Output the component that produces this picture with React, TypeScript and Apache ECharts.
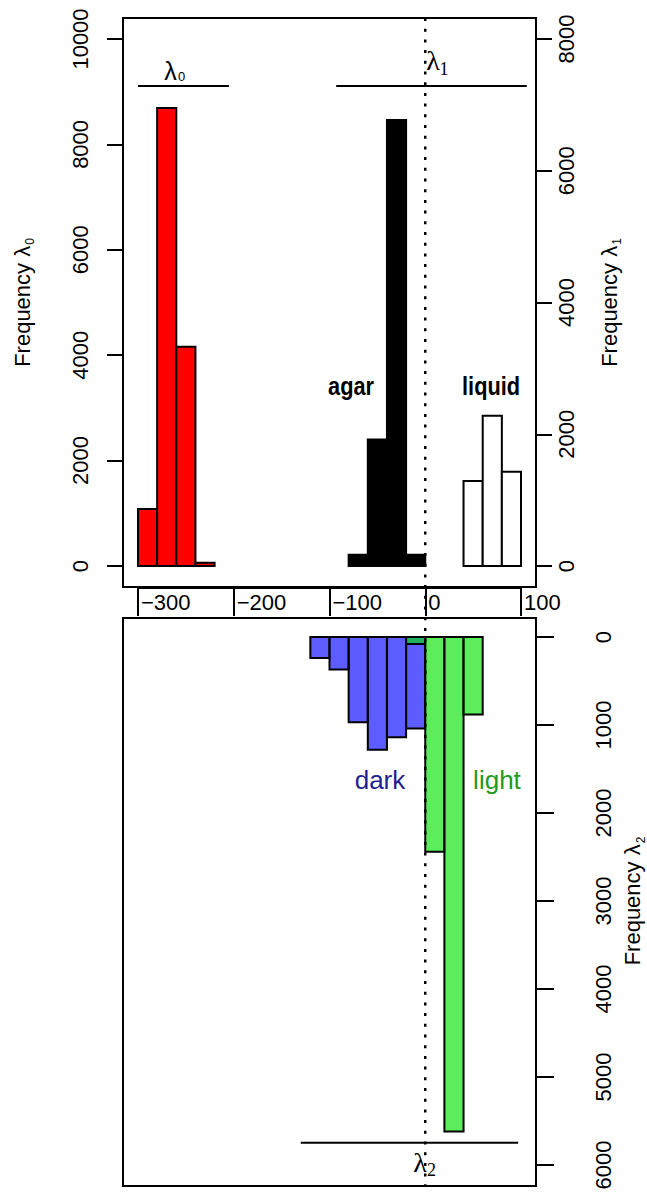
import React, { useEffect, useRef } from "react";
import * as echarts from "echarts";

// ---------------- data ----------------
const xTickValues = [-300, -200, -100, 0, 100];
const freq0Ticks = [0, 2000, 4000, 6000, 8000, 10000];
const freq1Ticks = [0, 2000, 4000, 6000, 8000];
const freq2Ticks = [0, 1000, 2000, 3000, 4000, 5000, 6000];

const lambda0Edges = [-300, -280, -260, -240, -220];
const lambda0Counts = [1080, 8690, 4160, 60];

const agarEdges = [-80, -60, -40, -20, 0];
const agarCounts = [170, 1920, 6770, 170];

const liquidEdges = [40, 60, 80, 100];
const liquidCounts = [1290, 2280, 1430];

const darkEdges = [-120, -100, -80, -60, -40, -20, 0];
const darkCounts = [240, 370, 970, 1280, 1140, 1040];

const lightEdges = [-20, 0, 20, 40, 60];
const lightCounts = [80, 2440, 5620, 880];

const lambda0Range = [-300, -205];
const lambda1Range = [-93, 106];
const lambda2Range = [-130, 97];

// ---------------- styling ----------------
const SANS = "'Liberation Sans', Arial, Helvetica, sans-serif";
const SERIF = "'Liberation Serif', 'Times New Roman', serif";
const BLACK = "#000";

const toBins = (edges: number[], counts: number[]) =>
  counts.map((c, i) => [edges[i], edges[i + 1], c]);

const fmtMinus = (v: number) => (v < 0 ? "\u2212" + Math.abs(v) : String(v));

function histSeries(
  xAxisIndex: number,
  yAxisIndex: number,
  edges: number[],
  counts: number[],
  fill: string
) {
  return {
    type: "custom",
    xAxisIndex,
    yAxisIndex,
    data: toBins(edges, counts),
    encode: { x: [0, 1], y: 2 },
    renderItem: (_p: any, api: any) => {
      const a = api.coord([api.value(0), 0]);
      const b = api.coord([api.value(1), api.value(2)]);
      return {
        type: "rect",
        shape: {
          x: Math.min(a[0], b[0]),
          y: Math.min(a[1], b[1]),
          width: Math.abs(b[0] - a[0]),
          height: Math.abs(b[1] - a[1]),
        },
        style: { fill, stroke: BLACK, lineWidth: 2 },
      };
    },
  };
}

// range line segments: [x0, x1, y]
function rangeSeries(xAxisIndex: number, yAxisIndex: number, items: number[][]) {
  return {
    type: "custom",
    xAxisIndex,
    yAxisIndex,
    data: items,
    encode: { x: [0, 1], y: 2 },
    renderItem: (_p: any, api: any) => {
      const a = api.coord([api.value(0), api.value(2)]);
      const b = api.coord([api.value(1), api.value(2)]);
      return {
        type: "line",
        shape: { x1: a[0], y1: a[1], x2: b[0], y2: b[1] },
        style: { stroke: BLACK, lineWidth: 2 },
      };
    },
  };
}

type Note = {
  at: number[];
  text: string;
  style: any;
  scaleX?: number;
  sub?: { text: string; dx: number; dy: number; style: any };
};

function noteSeries(xAxisIndex: number, yAxisIndex: number, notes: Note[]) {
  return {
    type: "custom",
    xAxisIndex,
    yAxisIndex,
    data: notes.map((n) => n.at),
    encode: { x: 0, y: 1 },
    renderItem: (p: any, api: any) => {
      const n = notes[p.dataIndex];
      const c = api.coord([api.value(0), api.value(1)]);
      const children: any[] = [
        {
          type: "text",
          x: 0,
          y: 0,
          scaleX: n.scaleX ?? 1,
          style: {
            text: n.text,
            align: "center",
            verticalAlign: "middle",
            fill: BLACK,
            ...n.style,
          },
        },
      ];
      if (n.sub) {
        children.push({
          type: "text",
          x: n.sub.dx,
          y: n.sub.dy,
          style: {
            text: n.sub.text,
            align: "center",
            verticalAlign: "middle",
            fill: BLACK,
            ...n.sub.style,
          },
        });
      }
      return { type: "group", x: c[0], y: c[1], children };
    },
  };
}

const freqName = (sub: string) => `{a|Frequency λ}{b|${sub}}`;
const freqNameStyle = {
  color: BLACK,
  fontSize: 22,
  fontFamily: SANS,
  rich: {
    a: { fontSize: 22, fontFamily: SANS, color: BLACK },
    b: { fontSize: 12, fontFamily: SANS, color: BLACK, padding: [16, 0, 0, 1] },
  },
};

const axisLineStyle = { color: BLACK, width: 2 };

export default function App() {
  const ref = useRef<HTMLDivElement>(null);

  useEffect(() => {
    document.body.style.margin = "0";
    const chart = echarts.init(ref.current!, undefined, { renderer: "svg" });

    const plotPxPerUnit = 383 / 400;
    const padUnits = 15 / plotPxPerUnit;
    const outerMin = xTickValues[0] - padUnits;
    const outerMax = xTickValues[xTickValues.length - 1] + padUnits;

    const yTickAxis = (ticks: number[], extra: any) => ({
      type: "value",
      min: ticks[0],
      max: ticks[ticks.length - 1],
      interval: ticks[1] - ticks[0],
      offset: 15,
      axisLine: { show: true, onZero: false, lineStyle: axisLineStyle },
      axisTick: { show: true, length: 16, lineStyle: axisLineStyle },
      splitLine: { show: false },
      nameLocation: "middle",
      nameRotate: 90,
      nameTextStyle: freqNameStyle,
      ...extra,
      axisLabel: {
        rotate: 90,
        color: BLACK,
        fontSize: 22,
        fontFamily: SANS,
        formatter: (v: number) => String(v),
        ...(extra.axisLabel || {}),
      },
    });

    const serifLambda = { fontSize: 28, fontFamily: SERIF };
    const serifSub = { fontSize: 18, fontFamily: SERIF };

    const option: any = {
      animation: false,
      backgroundColor: "#fff",
      textStyle: { fontFamily: SANS },
      grid: [
        { left: 138, top: 39, width: 383, height: 527, show: false, outerBoundsMode: "none" },
        { left: 138, top: 637, width: 383, height: 528, show: false, outerBoundsMode: "none" },
        { left: 123, top: 18, width: 413, height: 569, show: true, borderColor: BLACK, borderWidth: 2, backgroundColor: "transparent", outerBoundsMode: "none" },
        { left: 123, top: 618, width: 413, height: 568, show: true, borderColor: BLACK, borderWidth: 2, backgroundColor: "transparent", outerBoundsMode: "none" },
        { left: 123, top: 18, width: 413, height: 1168, show: false, outerBoundsMode: "none" },
      ],
      xAxis: [
        {
          gridIndex: 0,
          type: "value",
          min: xTickValues[0],
          max: xTickValues[xTickValues.length - 1],
          interval: xTickValues[1] - xTickValues[0],
          position: "bottom",
          offset: 22,
          axisLine: { show: true, onZero: false, lineStyle: axisLineStyle },
          axisTick: { show: true, length: 28, lineStyle: axisLineStyle },
          axisLabel: {
            color: BLACK,
            fontSize: 22,
            fontFamily: SANS,
            align: "left",
            margin: 3,
            padding: [0, 0, 0, 3],
            formatter: fmtMinus,
          },
          splitLine: { show: false },
        },
        { gridIndex: 1, type: "value", min: xTickValues[0], max: xTickValues[xTickValues.length - 1], show: false },
        { gridIndex: 2, type: "value", min: outerMin, max: outerMax, show: false },
        { gridIndex: 3, type: "value", min: outerMin, max: outerMax, show: false },
        { gridIndex: 4, type: "value", min: outerMin, max: outerMax, show: false },
      ],
      yAxis: [
        yTickAxis(freq0Ticks, {
          gridIndex: 0,
          position: "left",
          name: freqName("0"),
          nameGap: 87,
          axisLabel: { margin: 32 },
        }),
        yTickAxis(freq1Ticks, {
          gridIndex: 0,
          position: "right",
          name: freqName("1"),
          nameGap: 59,
          axisLabel: { margin: 19 },
        }),
        yTickAxis(freq2Ticks, {
          gridIndex: 1,
          position: "right",
          inverse: true,
          name: freqName("2"),
          nameGap: 81,
          axisTick: { show: true, length: 18, lineStyle: axisLineStyle },
          axisLabel: { margin: 56 },
        }),
        { gridIndex: 2, type: "value", min: 0, max: 1, show: false },
        { gridIndex: 3, type: "value", min: 0, max: 1, show: false },
        { gridIndex: 4, type: "value", min: 0, max: 1, show: false },
      ],
      series: [
        histSeries(0, 0, lambda0Edges, lambda0Counts, "#ff0000"),
        histSeries(0, 1, agarEdges, agarCounts, "#000000"),
        histSeries(0, 1, liquidEdges, liquidCounts, "#ffffff"),
        rangeSeries(0, 0, [
          [lambda0Range[0], lambda0Range[1], 9108],
          [lambda1Range[0], lambda1Range[1], 9108],
        ]),
        noteSeries(0, 0, [
          {
            at: [-266, 9393],
            text: "λ",
            style: { fontSize: 25, fontFamily: SANS },
            sub: { text: "0", dx: 11, dy: 6, style: { fontSize: 13, fontFamily: SANS } },
          },
          {
            at: [8, 9583],
            text: "λ",
            style: serifLambda,
            sub: { text: "1", dx: 11, dy: 8, style: serifSub },
          },
          { at: [-77.5, 3400], text: "agar", scaleX: 0.87, style: { fontSize: 25, fontWeight: "bold", fontFamily: SANS } },
          { at: [68.7, 3400], text: "liquid", scaleX: 0.87, style: { fontSize: 25, fontWeight: "bold", fontFamily: SANS } },
        ]),
        histSeries(1, 2, darkEdges, darkCounts, "rgba(0,0,255,0.64)"),
        histSeries(1, 2, lightEdges, lightCounts, "rgba(0,225,0,0.64)"),
        rangeSeries(1, 2, [[lambda2Range[0], lambda2Range[1], 5747]]),
        noteSeries(1, 2, [
          {
            at: [-5.5, 5966],
            text: "λ",
            style: serifLambda,
            sub: { text: "2", dx: 11.5, dy: 8, style: serifSub },
          },
          { at: [-47.3, 1625], text: "dark", style: { fontSize: 26, fontFamily: SANS, fill: "#1f1f8f" } },
          { at: [74.9, 1625], text: "light", style: { fontSize: 26, fontFamily: SANS, fill: "#229a22" } },
        ]),
        {
          type: "custom",
          xAxisIndex: 4,
          yAxisIndex: 5,
          data: [[0, 0]],
          z: 5,
          renderItem: (p: any, api: any) => {
            const x = api.coord([api.value(0), 0])[0];
            const cs = p.coordSys;
            return {
              type: "line",
              shape: { x1: x, y1: cs.y, x2: x, y2: cs.y + cs.height },
              style: { stroke: BLACK, lineWidth: 2.5, lineDash: [3, 7.7] },
            };
          },
        },
      ],
    };

    chart.setOption(option);
    return () => chart.dispose();
  }, []);

  return <div ref={ref} style={{ width: 647, height: 1192 }} />;
}
